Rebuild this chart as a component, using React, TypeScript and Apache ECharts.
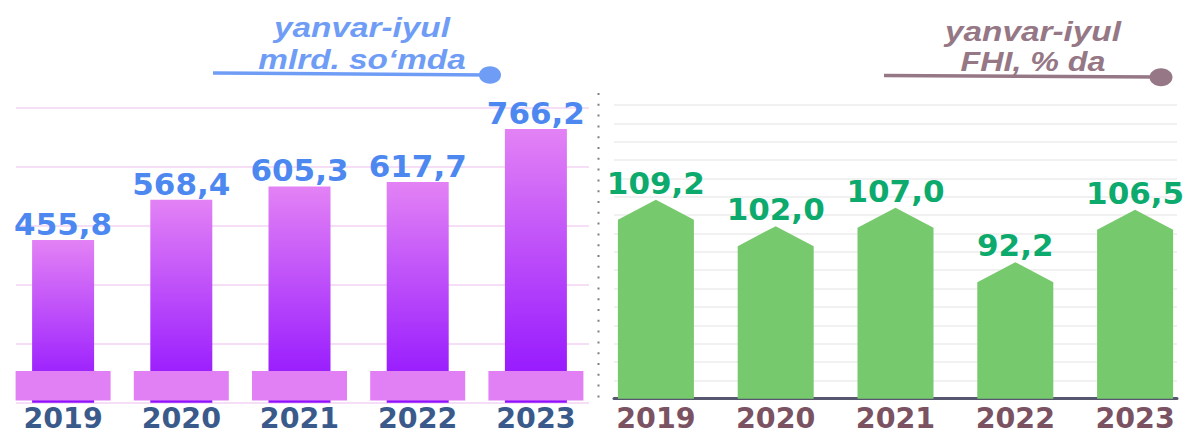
import React, { useEffect, useRef } from "react";
import * as echarts from "echarts";

const years = ["2019", "2020", "2021", "2022", "2023"];
const volumeValues = [455.8, 568.4, 605.3, 617.7, 766.2]; // mlrd. so'm
const indexValues = [109.2, 102.0, 107.0, 92.2, 106.5]; // FHI, %
const baseOffset = [6, 6, 6, 6, 6];
const baseBand = [83, 83, 83, 83, 83];
const leftTitle = ["yanvar-iyul", "mlrd. so‘mda"];
const rightTitle = ["yanvar-iyul", "FHI, % da"];

const fmt = (v: number) => v.toFixed(1).replace(".", ",");

const NUM_FONT = '"DejaVu Sans", sans-serif';
const TITLE_FONT = 'italic bold 28px "Liberation Sans", Arial, sans-serif';
const RIGHT_MIN = 55;
const RIGHT_MAX = 135;

export default function App() {
  const ref = useRef<HTMLDivElement>(null);
  useEffect(() => {
    if (!ref.current) return;
    const chart = echarts.init(ref.current, undefined, { renderer: "svg" });
    const option: any = {
      animation: false,
      backgroundColor: "#ffffff",
      grid: [
        { left: 4, right: 600, top: 108, bottom: 31.3 },
        { left: 596, right: -5, top: 105, bottom: 35.3 },
        { left: 16, right: 606, top: 108, bottom: 31.3 },
        { left: 614, right: 18, top: 105, bottom: 35.3 },
      ],
      xAxis: [
        {
          gridIndex: 0,
          type: "category",
          data: years,
          axisLine: { show: false },
          axisTick: { show: false },
          axisLabel: {
            margin: 1,
            color: "#3A5A8C",
            fontSize: 28.5,
            fontWeight: "bold",
            fontFamily: NUM_FONT,
          },
        },
        { gridIndex: 0, type: "category", data: years, show: false },
        {
          gridIndex: 1,
          type: "category",
          data: years,
          axisLine: { show: false },
          axisTick: { show: false },
          axisLabel: {
            margin: 5,
            color: "#7A5262",
            fontSize: 28.5,
            fontWeight: "bold",
            fontFamily: NUM_FONT,
          },
        },
        {
          gridIndex: 2,
          type: "value",
          min: 0,
          max: 1,
          axisLine: { show: false },
          axisTick: { show: false },
          axisLabel: { show: false },
          splitLine: { show: false },
        },
        {
          gridIndex: 3,
          type: "value",
          min: 0,
          max: 1,
          axisLine: { show: true, onZero: false, lineStyle: { color: "#56566E", width: 3 } },
          axisTick: { show: false },
          axisLabel: { show: false },
          splitLine: { show: false },
        },
      ],
      yAxis: [
        { gridIndex: 0, type: "value", min: 0, max: 825, show: false },
        { gridIndex: 1, type: "value", min: RIGHT_MIN, max: RIGHT_MAX, show: false },
        {
          gridIndex: 2,
          type: "value",
          min: 0,
          max: 825,
          interval: 165,
          axisLine: { show: false },
          axisTick: { show: false },
          axisLabel: { show: false },
          splitLine: { show: true, lineStyle: { color: "#F6DEF7", width: 2 } },
        },
        {
          gridIndex: 3,
          type: "value",
          min: RIGHT_MIN,
          max: RIGHT_MAX,
          interval: 5,
          axisLine: { show: false },
          axisTick: { show: false },
          axisLabel: { show: false },
          splitLine: { show: true, lineStyle: { color: "#F1F1F1", width: 2 } },
        },
      ],
      series: [
        {
          type: "bar",
          xAxisIndex: 0,
          yAxisIndex: 0,
          data: volumeValues,
          barWidth: 62,
          z: 2,
          itemStyle: {
            color: new echarts.graphic.LinearGradient(0, 0, 0, 1, [
              { offset: 0, color: "#E382F5" },
              { offset: 1, color: "#8E0EFF" },
            ]),
          },
          label: {
            show: true,
            position: "top",
            distance: 0.5,
            formatter: (p: any) => fmt(p.value),
            color: "#4D88F0",
            fontSize: 31,
            fontWeight: "bold",
            fontFamily: NUM_FONT,
          },
        },
        {
          type: "bar",
          xAxisIndex: 1,
          yAxisIndex: 0,
          stack: "base",
          data: baseOffset,
          barWidth: 95,
          silent: true,
          z: 3,
          itemStyle: { color: "rgba(0,0,0,0)" },
        },
        {
          type: "bar",
          xAxisIndex: 1,
          yAxisIndex: 0,
          stack: "base",
          data: baseBand,
          barWidth: 95,
          silent: true,
          z: 3,
          itemStyle: { color: "#E17FF5" },
        },
        {
          type: "custom",
          xAxisIndex: 2,
          yAxisIndex: 1,
          data: indexValues.map((v, i) => [i, v]),
          renderItem: (params: any, api: any) => {
            const cat = api.value(0);
            const val = api.value(1);
            const top = api.coord([cat, val]);
            const bottom = api.coord([cat, RIGHT_MIN]);
            const hw = 38;
            const shoulder = 20;
            return {
              type: "group",
              children: [
                {
                  type: "polygon",
                  shape: {
                    points: [
                      [top[0] - hw, bottom[1]],
                      [top[0] - hw, top[1] + shoulder],
                      [top[0], top[1]],
                      [top[0] + hw, top[1] + shoulder],
                      [top[0] + hw, bottom[1]],
                    ],
                  },
                  style: { fill: "#77C96D" },
                },
                {
                  type: "text",
                  style: {
                    text: fmt(val),
                    x: top[0],
                    y: top[1] - 1.5,
                    align: "center",
                    verticalAlign: "bottom",
                    fill: "#0DAA6E",
                    fontSize: 31,
                    fontWeight: "bold",
                    fontFamily: NUM_FONT,
                  },
                },
              ],
            };
          },
        },
      ],
      graphic: [
        {
          type: "line",
          shape: { x1: 598.5, y1: 93, x2: 598.5, y2: 405 },
          style: { stroke: "#808080", lineWidth: 2, lineDash: [2, 8.8] },
        },
        {
          type: "line",
          shape: { x1: 213, y1: 73, x2: 488, y2: 75 },
          style: { stroke: "#6F9DF6", lineWidth: 3.5 },
        },
        {
          type: "ellipse",
          shape: { cx: 490, cy: 75, rx: 11, ry: 8.8 },
          style: { fill: "#6F9DF6" },
        },
        {
          type: "text",
          x: 362,
          y: 41.6,
          scaleX: 1.19,
          style: {
            text: leftTitle[0],
            font: TITLE_FONT,
            fill: "#6F9DF6",
            align: "center",
            verticalAlign: "bottom",
          },
        },
        {
          type: "text",
          x: 362,
          y: 73.6,
          scaleX: 1.19,
          style: {
            text: leftTitle[1],
            font: TITLE_FONT,
            fill: "#6F9DF6",
            align: "center",
            verticalAlign: "bottom",
          },
        },
        {
          type: "line",
          shape: { x1: 884, y1: 75.5, x2: 1158, y2: 77 },
          style: { stroke: "#957785", lineWidth: 3.5 },
        },
        {
          type: "ellipse",
          shape: { cx: 1161, cy: 77.3, rx: 11.5, ry: 9 },
          style: { fill: "#957785" },
        },
        {
          type: "text",
          x: 1033,
          y: 45,
          scaleX: 1.19,
          style: {
            text: rightTitle[0],
            font: TITLE_FONT,
            fill: "#957785",
            align: "center",
            verticalAlign: "bottom",
          },
        },
        {
          type: "text",
          x: 1033,
          y: 75.3,
          scaleX: 1.15,
          style: {
            text: rightTitle[1],
            font: TITLE_FONT,
            fill: "#957785",
            align: "center",
            verticalAlign: "bottom",
          },
        },
      ],
    };
    chart.setOption(option);
    return () => chart.dispose();
  }, []);
  return (
    <div
      ref={ref}
      style={{ position: "fixed", left: 0, top: 0, width: 1195, height: 434, background: "#fff" }}
    />
  );
}
